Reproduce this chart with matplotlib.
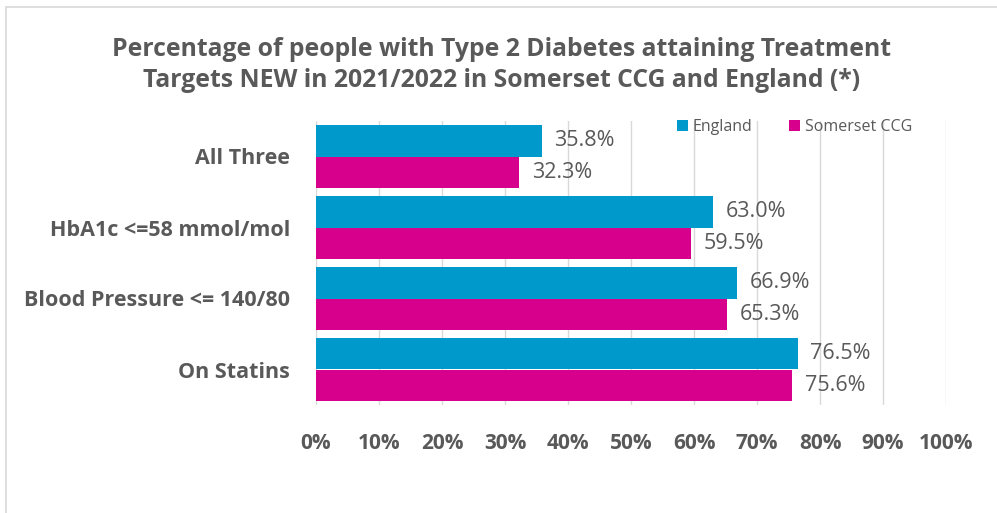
import matplotlib.pyplot as plt
from matplotlib.patches import Rectangle

# Data
categories = ['All Three', 'HbA1c <=58 mmol/mol', 'Blood Pressure <= 140/80', 'On Statins']
england = [35.8, 63.0, 66.9, 76.5]
somerset = [32.3, 59.5, 65.3, 75.6]
series_names = ['England', 'Somerset CCG']
xticks = [0, 10, 20, 30, 40, 50, 60, 70, 80, 90, 100]

blue = '#0099CC'
magenta = '#D6008D'
grey = '#595959'

plt.rcParams['font.family'] = ['Open Sans', 'DejaVu Sans']

W, H = 997, 513
fig = plt.figure(figsize=(W / 100, H / 100), dpi=100)

# outer chart border
fig.patches.append(Rectangle((6 / W, -0.1), 1.1, 1 - 7 / H + 0.1, transform=fig.transFigure,
                             fill=False, edgecolor='#D9D9D9', linewidth=1.2))

ax = fig.add_axes([316 / W, 1 - 405 / H, 630 / W, 284 / H])

bar_h = 0.437
y = list(range(len(categories)))
y_eng = [i - bar_h / 2 for i in y]
y_som = [i + bar_h / 2 for i in y]

ax.barh(y_eng, england, height=bar_h, color=blue, label=series_names[0], zorder=3)
ax.barh(y_som, somerset, height=bar_h, color=magenta, label=series_names[1], zorder=3)

for yy, v in zip(y_eng, england):
    ax.annotate(f'{v:.1f}%', (v, yy), xytext=(9, 0), textcoords='offset points',
                va='center', ha='left', fontsize=15.5, color=grey)
for yy, v in zip(y_som, somerset):
    ax.annotate(f'{v:.1f}%', (v, yy), xytext=(9, 0), textcoords='offset points',
                va='center', ha='left', fontsize=15.5, color=grey)

ax.set_xlim(0, 100)
ax.set_ylim(len(categories) - 0.5, -0.5)
ax.set_xticks(xticks)
ax.set_xticklabels([f'{t}%' for t in xticks], fontsize=15, fontweight='bold', color=grey)
ax.set_yticks(y)
ax.set_yticklabels(categories, fontsize=15.5, fontweight='bold', color=grey)
ax.tick_params(axis='both', length=0)
ax.tick_params(axis='x', pad=20)
ax.tick_params(axis='y', pad=18.5)
ax.grid(axis='x', color='#D9D9D9', linewidth=1, zorder=0)
for s in ax.spines.values():
    s.set_visible(False)

leg = ax.legend(loc='upper right', bbox_to_anchor=(0.957, 1.03), ncol=2, frameon=False,
                fontsize=11.5, handlelength=0.7, handleheight=0.7, handletextpad=0.3,
                columnspacing=2.3, borderaxespad=0)
for t in leg.get_texts():
    t.set_color(grey)

fig.text(0.503, 1 - 65 / H, 'Percentage of people with Type 2 Diabetes attaining Treatment\n'
         'Targets NEW in 2021/2022 in Somerset CCG and England (*)',
         ha='center', va='center', fontsize=17.8, fontweight='bold', color=grey, linespacing=1.3)

fig.savefig('out.png', dpi=100)
